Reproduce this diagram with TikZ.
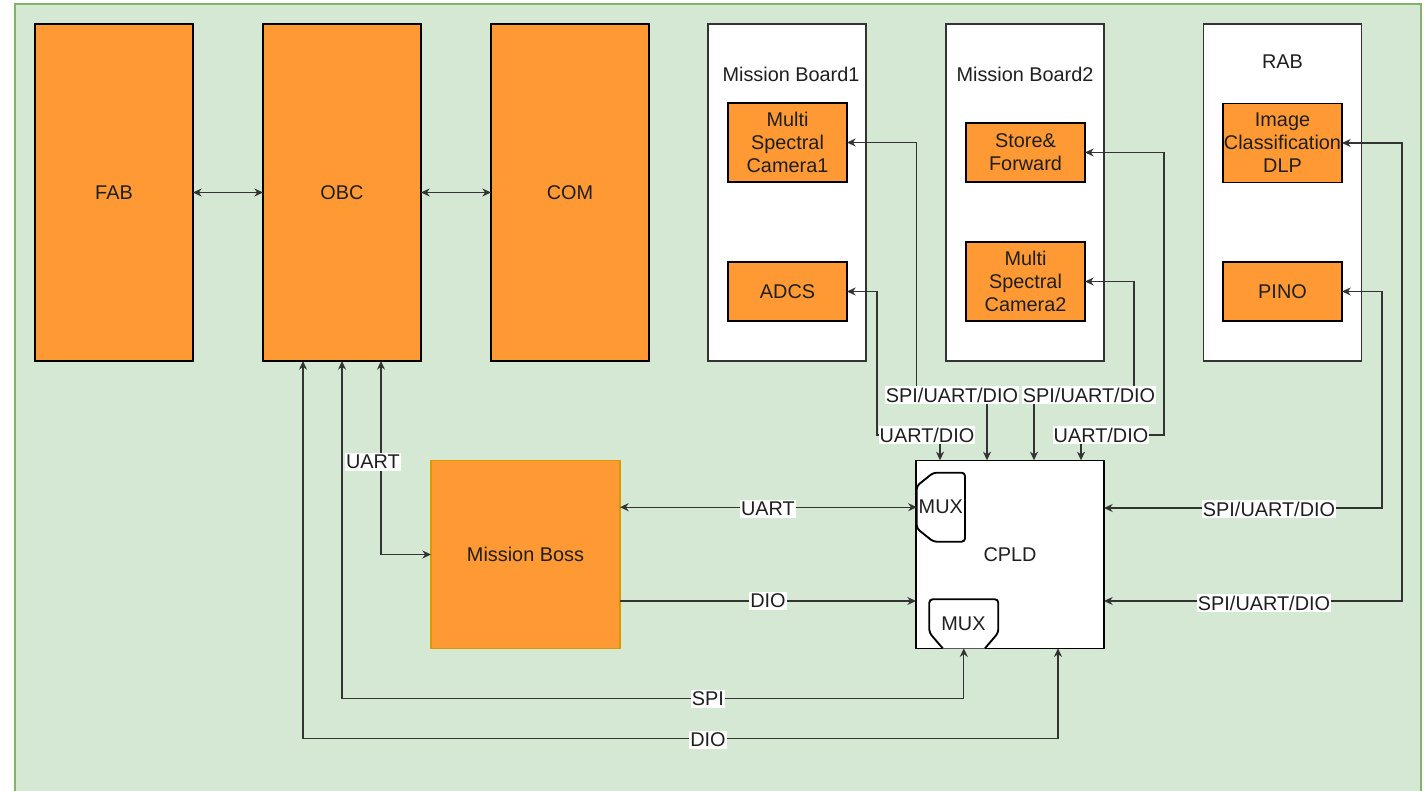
\documentclass[tikz,border=0pt]{standalone}
\usepackage{fontspec}
\setmainfont{Liberation Sans}
\usetikzlibrary{arrows.meta,calc}
\definecolor{bgfill}{HTML}{D5E8D4}
\definecolor{bgline}{HTML}{82B366}
\definecolor{orfill}{HTML}{FF9933}
\definecolor{bossline}{HTML}{D79B00}
\definecolor{wire}{HTML}{333333}
\definecolor{txt}{HTML}{1F1F1F}
\tikzset{
  sz/.style 2 args={minimum width=#1*0.75pt, minimum height=#2*0.75pt},
  base/.style={inner sep=0pt, outer sep=0pt, align=center, text=txt,
    font=\fontsize{14.9}{17.25}\selectfont},
  obox/.style={base, draw=black, line width=1.1pt, fill=orfill},
  wbox/.style={base, draw=wire, line width=0.9pt, fill=white},
  bossbox/.style={base, draw=bossline, line width=0.9pt, fill=orfill},
  lbl/.style={base, fill=white, inner xsep=0.8pt, inner ysep=1.5pt},
  ttl/.style={base},
  link/.style={draw=wire, line width=0.9pt},
  bi/.style={link, {Stealth[length=6.5pt,width=6pt]}-{Stealth[length=6.5pt,width=6pt]}},
  uni/.style={link, -{Stealth[length=6.5pt,width=6pt]}},
  muxline/.style={draw=black, line width=1.4pt, fill=white, rounded corners=2.5pt},
}
\begin{document}
\begin{tikzpicture}[x=0.75pt, y=-0.75pt]
\useasboundingbox (0,0) rectangle (1428,791);
% backdrop
\fill[white] (0,0) rectangle (1428,791);
\draw[bgline, fill=bgfill, line width=1pt] (15,4) rectangle (1421,800);

% main bus boards
\node[obox, sz={158}{337}] (fab) at (114,192.5) {FAB};
\node[obox, sz={158}{337}] (obc) at (342,192.5) {OBC};
\node[obox, sz={158}{337}] (com) at (570,192.5) {COM};

% payload boards
\node[wbox, sz={158}{337}] (mb1) at (787,192.5) {};
\node[wbox, sz={158}{337}] (mb2) at (1025,192.5) {};
\node[wbox, sz={158}{337}] (rab) at (1282.5,192.5) {};
\node[ttl] (mb1t) at (791,74) {Mission Board1};
\node[ttl] (mb2t) at (1025,74) {Mission Board2};
\node[ttl] (rabt) at (1282.5,62) {RAB};

\node[obox, line width=0.8pt, sz={119}{79}] (cam1) at (787.5,142.5) {Multi\\Spectral\\Camera1};
\node[obox, line width=0.8pt, sz={119}{59}] (adcs) at (787.5,291.5) {ADCS};
\node[obox, line width=0.8pt, sz={119}{59}] (sf) at (1025.5,152.5) {Store\&\\Forward};
\node[obox, line width=0.8pt, sz={119}{79}] (cam2) at (1025.5,281.5) {Multi\\Spectral\\Camera2};
\node[obox, line width=0.8pt, sz={119}{79}] (icd) at (1282.5,143) {Image\\Classification\\DLP};
\node[obox, line width=0.8pt, sz={119}{59}] (pino) at (1282.5,291.5) {PINO};

% mission boss and CPLD
\node[bossbox, sz={189}{188}] (boss) at (525.5,554.5) {Mission Boss};
\node[wbox, draw=black, sz={188}{188}] (cpld) at (1010,554.3) {CPLD};

% multiplexers inside the CPLD
\draw[muxline] (916.7,486) -- (933.3,472.7) -- (965,472.7) -- (965,541.7)
  -- (933.3,541.7) -- (916.7,528.3) -- cycle;
\node[base, sz={48}{69}] (mux1) at (940.8,507.2) {MUX};
\draw[muxline] (942.7,648.3) -- (929.3,632.7) -- (929.3,599.3) -- (998.3,599.3)
  -- (998.3,632.7) -- (985,648.3);
\node[base, sz={69}{49}] (mux2) at (963.8,623.8) {};
\node[base] (mux2t) at (963.5,623.5) {MUX};

% links on the left
\draw[bi] (fab) -- (obc);
\draw[bi] (obc) -- (com);
\draw[bi] ($(obc.south)+(39,0)$) |- (boss.west);
\draw[bi] (mux2.south) -- ++(0,50) -| (obc.south);
\draw[bi] ($(cpld.south)+(48,0)$) -- ++(0,90) -| ($(obc.south)+(-39,0)$);
\draw[bi] (boss.east |- mux1.west) -- (mux1.west);
\coordinate (dioy) at (0,601);
\draw[uni] (boss.east |- dioy) -- (cpld.west |- dioy);

% links to the payload boards
\coordinate (b1) at (916.5,395);
\coordinate (b2) at (877,435);
\coordinate (b3) at (1134,395);
\coordinate (b4) at (1164,435);
\coordinate (b5) at (1402,601);
\coordinate (b6) at (1382,508);
\draw[bi] (cam1.east) -| (b1) -| ($(cpld.north)+(-23,0)$);
\draw[bi] (adcs.east) -| (b2) -| ($(cpld.north)+(-70,0)$);
\draw[bi] (cam2.east) -| (b3) -| ($(cpld.north)+(24,0)$);
\draw[bi] (sf.east) -| (b4) -| ($(cpld.north)+(71,0)$);
\draw[bi] (icd.east) -| (b5) -- (cpld.east |- b5);
\draw[bi] (pino.east) -| (b6) -- (cpld.east |- b6);

% link labels
\node[lbl] (l1) at (373,462) {UART};
\node[lbl] (l2) at (768,509) {UART};
\node[lbl] (l3) at (768,601) {DIO};
\node[lbl] (l4) at (708,699) {SPI};
\node[lbl] (l5) at (708,740) {DIO};
\node[lbl] (l6) at (952,395) {SPI/UART/DIO};
\node[lbl] (l7) at (1089,395) {SPI/UART/DIO};
\node[lbl] (l8) at (927,435) {UART/DIO};
\node[lbl] (l9) at (1101,435) {UART/DIO};
\node[lbl] (l10) at (1269,509) {SPI/UART/DIO};
\node[lbl] (l11) at (1264,603) {SPI/UART/DIO};
\end{tikzpicture}
\end{document}
